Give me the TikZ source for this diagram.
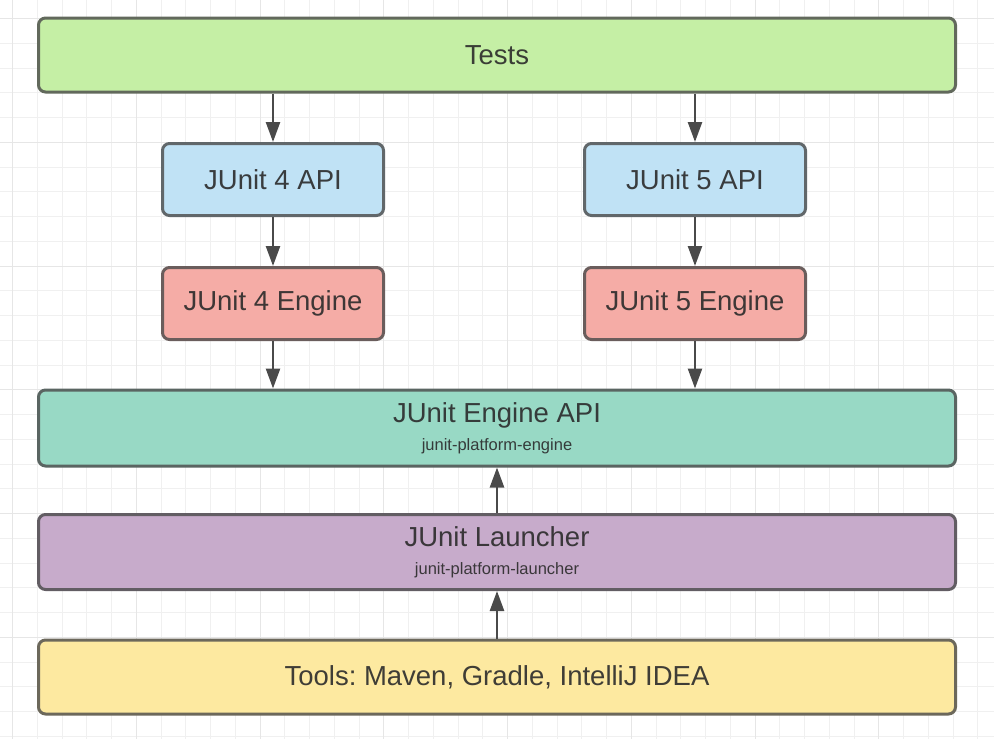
\documentclass[tikz,border=0pt]{standalone}
\usepackage{fontspec}
\setmainfont{Liberation Sans}
\usetikzlibrary{arrows.meta}
\frenchspacing
\definecolor{testsfill}{HTML}{C5EFA5}
\definecolor{apifill}{HTML}{C0E2F5}
\definecolor{enginefill}{HTML}{F5ACA6}
\definecolor{engapifill}{HTML}{98D9C5}
\definecolor{launchfill}{HTML}{C7ABCB}
\definecolor{toolsfill}{HTML}{FDE9A0}
\definecolor{gridminor}{HTML}{F0F0F0}
\definecolor{gridmajor}{HTML}{E6E6E6}
\definecolor{bordergray}{HTML}{4C4C4C}
\definecolor{textgray}{HTML}{2A2A2A}
\definecolor{arrowgray}{HTML}{4A4A4A}
\newcommand{\subtext}[1]{{\fontsize{16.5}{19}\selectfont #1}}
\begin{document}
\begin{tikzpicture}[x=1pt, y=-1pt,
    layer/.style={draw=#1!18!bordergray, fill=#1, line width=3pt, rounded corners=7pt,
      text=#1!10!textgray, font=\fontsize{27.5}{31}\selectfont, align=center,
      inner sep=0pt, outer sep=1.5pt},
    widebox/.style={layer=#1, minimum width=917pt, minimum height=74pt},
    smallbox/.style={layer=#1, minimum width=221pt, minimum height=72pt},
    arr/.style={draw=arrowgray, line width=2.5pt, -{Triangle[length=20pt, width=14pt]}}]
  \useasboundingbox (0,0) rectangle (994,739);
  \fill[white] (0,0) rectangle (994,739);
  \foreach \i in {0,...,39}
    \draw[gridminor, line width=1pt] ({12.7+24.75*\i},0) -- ++(0,739);
  \foreach \j in {0,...,29}
    \draw[gridminor, line width=1pt] (0,{18.5+24.75*\j}) -- ++(994,0);
  \foreach \i in {0,...,7}
    \draw[gridmajor, line width=1pt] ({12.7+123.75*\i},0) -- ++(0,739);
  \foreach \j in {0,...,5}
    \draw[gridmajor, line width=1pt] (0,{18.5+123.75*\j}) -- ++(994,0);

  \node[widebox=testsfill] (tests) at (497,55) {Tests};
  \node[smallbox=apifill] (api4) at (273,179.5) {JUnit 4 API};
  \node[smallbox=apifill] (api5) at (695,179.5) {JUnit 5 API};
  \node[smallbox=enginefill] (eng4) at (273,303.5) {JUnit 4 Engine};
  \node[smallbox=enginefill] (eng5) at (695,303.5) {JUnit 5 Engine};
  \node[widebox=engapifill, minimum height=76pt] (engapi) at (497,428)
    {JUnit Engine API\\[-3pt]\subtext{junit-platform-engine}};
  \node[widebox=launchfill, minimum height=75pt] (launcher) at (497,552)
    {JUnit Launcher\\[-3pt]\subtext{junit-platform-launcher}};
  \node[widebox=toolsfill] (tools) at (497,677) {Tools: Maven, Gradle, IntelliJ IDEA};

  \draw[arr] (tests.south -| api4.north) -- (api4.north);
  \draw[arr] (tests.south -| api5.north) -- (api5.north);
  \draw[arr] (api4) -- (eng4);
  \draw[arr] (api5) -- (eng5);
  \draw[arr] (eng4.south) -- (eng4.south |- engapi.north);
  \draw[arr] (eng5.south) -- (eng5.south |- engapi.north);
  \draw[arr] (launcher) -- (engapi);
  \draw[arr] (tools) -- (launcher);
\end{tikzpicture}
\end{document}
